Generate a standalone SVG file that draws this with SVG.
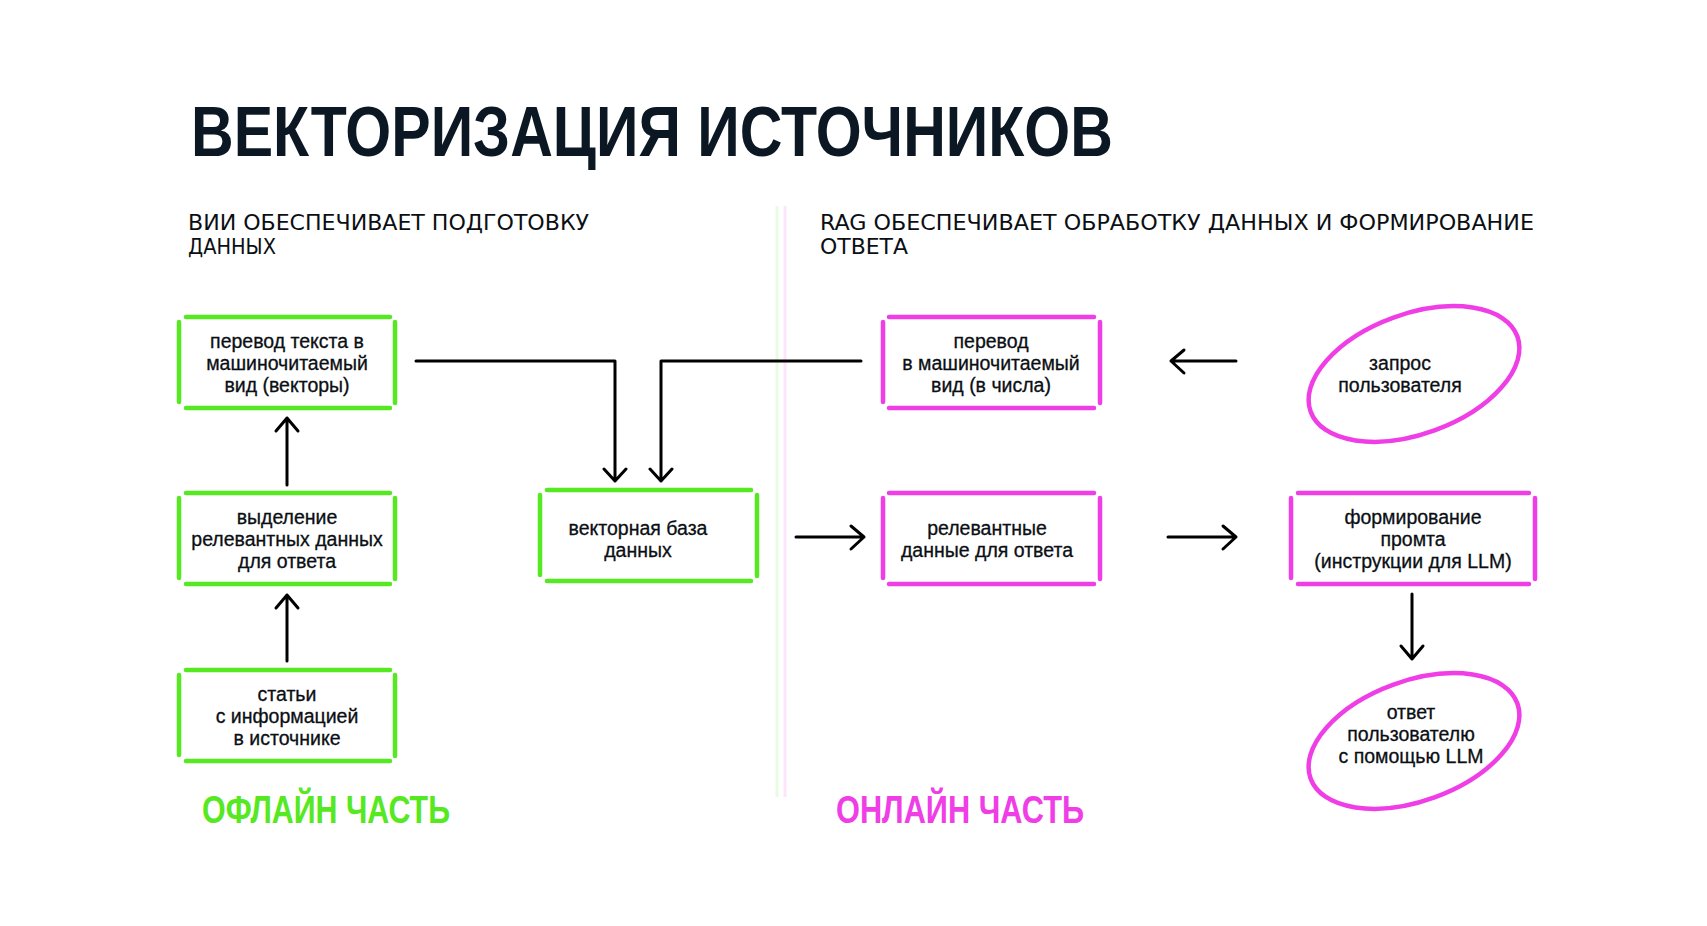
<svg xmlns="http://www.w3.org/2000/svg" width="1707" height="926" viewBox="0 0 1707 926">
<style>
.g{stroke:#56e820;stroke-width:4.5;stroke-linecap:round;fill:none}
.p{stroke:#f03ee6;stroke-width:4.5;stroke-linecap:round;fill:none}
.t{font-family:"Liberation Sans",Arial,sans-serif;font-size:19.5px;font-weight:500;fill:#0b0f14;text-anchor:middle;stroke:#0b0f14;stroke-width:0.3}
.h{font-family:"DejaVu Sans Condensed","Liberation Sans",sans-serif;font-size:22px;fill:#0b0f14}
.c{stroke:#000;stroke-width:3;fill:none;stroke-linecap:round;stroke-linejoin:round}
.f{font-family:"Liberation Sans",Arial,sans-serif;font-size:38px;font-weight:bold}
</style>
<rect width="1707" height="926" fill="#fff"/>
<text x="191" y="156" font-family="Liberation Sans,Arial,sans-serif" font-size="70" font-weight="bold" fill="#0b1722" textLength="922" lengthAdjust="spacingAndGlyphs">ВЕКТОРИЗАЦИЯ   ИСТОЧНИКОВ</text>
<text class="h" x="188" y="230" textLength="401" lengthAdjust="spacingAndGlyphs">ВИИ  ОБЕСПЕЧИВАЕТ  ПОДГОТОВКУ</text>
<text class="h" x="188" y="254" textLength="88" lengthAdjust="spacingAndGlyphs">ДАННЫХ</text>
<text class="h" x="820" y="230" textLength="714" lengthAdjust="spacingAndGlyphs">RAG  ОБЕСПЕЧИВАЕТ  ОБРАБОТКУ  ДАННЫХ  И  ФОРМИРОВАНИЕ</text>
<text class="h" x="820" y="254" textLength="88" lengthAdjust="spacingAndGlyphs">ОТВЕТА</text>
<line x1="777" y1="206" x2="777" y2="797" stroke="#eafbe4" stroke-width="3"/>
<line x1="785" y1="206" x2="785" y2="797" stroke="#fce6fb" stroke-width="3"/>

<g id="n1"><path class="g" d="M186 317H390M186 408H390M179 322V402M395 322V403"/>
<text class="t" x="287" y="348">перевод текста в</text><text class="t" x="287" y="370">машиночитаемый</text><text class="t" x="287" y="392">вид (векторы)</text></g>
<g id="n2"><path class="g" d="M186 493H390M186 584H390M179 498V578M395 498V579"/>
<text class="t" x="287" y="524">выделение</text><text class="t" x="287" y="546">релевантных данных</text><text class="t" x="287" y="568">для ответа</text></g>
<g id="n3"><path class="g" d="M186 670H390M186 761H390M179 675V755M395 675V756"/>
<text class="t" x="287" y="701">статьи</text><text class="t" x="287" y="723">с информацией</text><text class="t" x="287" y="745">в источнике</text></g>
<g id="n4"><path class="g" d="M547 490H751M547 581H751M540 495V575M757 495V576"/>
<text class="t" x="638" y="535">векторная база</text><text class="t" x="638" y="557">данных</text></g>
<g id="n5"><path class="p" d="M889 317H1094M889 408H1094M883 322V402M1100 322V403"/>
<text class="t" x="991" y="348">перевод</text><text class="t" x="991" y="370">в машиночитаемый</text><text class="t" x="991" y="392">вид (в числа)</text></g>
<g id="n6"><path class="p" d="M889 493H1094M889 584H1094M883 498V578M1100 498V579"/>
<text class="t" x="987" y="535">релевантные</text><text class="t" x="987" y="557">данные для ответа</text></g>
<g id="n7"><path class="p" d="M1298 493H1529M1298 584H1529M1291 498V578M1535 498V579"/>
<text class="t" x="1413" y="524">формирование</text><text class="t" x="1413" y="546">промта</text><text class="t" x="1413" y="568">(инструкции для LLM)</text></g>
<g id="n8"><ellipse class="p" cx="1414" cy="374" rx="110" ry="60" transform="rotate(-20 1414 374)"/>
<text class="t" x="1400" y="370">запрос</text><text class="t" x="1400" y="392">пользователя</text></g>
<g id="n9"><ellipse class="p" cx="1414" cy="741" rx="110" ry="60" transform="rotate(-20 1414 741)"/>
<text class="t" x="1411" y="719">ответ</text><text class="t" x="1411" y="741">пользователю</text><text class="t" x="1411" y="763">с помощью LLM</text></g>

<g id="connectors">
<path class="c" d="M287 485V418M276 431L287 418L298 431"/>
<path class="c" d="M287 661V595M276 608L287 595L298 608"/>
<path class="c" d="M416 361H615V481M604 469L615 481L626 469"/>
<path class="c" d="M861 361H661V481M650 469L661 481L672 469"/>
<path class="c" d="M1236 361H1171M1184 350L1171 361L1184 373"/>
<path class="c" d="M796 537H864M851 526L864 537L851 549"/>
<path class="c" d="M1168 537H1236M1223 526L1236 537L1223 549"/>
<path class="c" d="M1412 594V659M1401 646L1412 659L1423 646"/>
</g>
<text class="f" x="202" y="823" fill="#56e820" textLength="248" lengthAdjust="spacingAndGlyphs">ОФЛАЙН   ЧАСТЬ</text>
<text class="f" x="836" y="823" fill="#f03ee6" textLength="248" lengthAdjust="spacingAndGlyphs">ОНЛАЙН   ЧАСТЬ</text>
</svg>
